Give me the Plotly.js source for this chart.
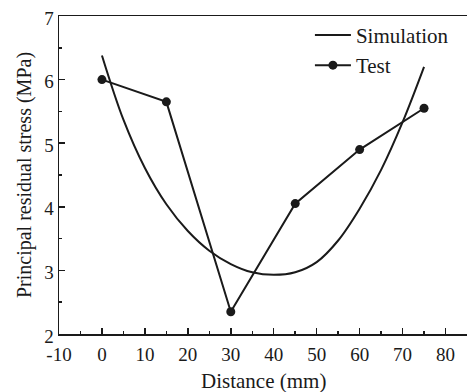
<!DOCTYPE html>
<html>
<head>
<meta charset="utf-8">
<script src="https://cdn.plot.ly/plotly-3.0.1.min.js"></script>
<style>html,body{margin:0;padding:0;background:#fff;}#chart{width:467px;height:392px;}</style>
</head>
<body>
<div id="chart"></div>
<script>
// Simulation curve
const simX = [0, 5, 10, 15, 20, 25, 30, 35, 40, 45, 50, 55, 60, 65, 70, 75];
const simY = [6.38, 5.37, 4.61, 4.04, 3.62, 3.31, 3.10, 2.97, 2.93, 2.97, 3.13, 3.47, 3.97, 4.58, 5.33, 6.2];
// Test data
const testX = [0, 15, 30, 45, 60, 75];
const testY = [6.0, 5.65, 2.35, 4.05, 4.9, 5.55];

const xTicks = [-10, 0, 10, 20, 30, 40, 50, 60, 70, 80];
const yTicks = [2, 3, 4, 5, 6, 7];
const xTitle = 'Distance (mm)';
const yTitle = 'Principal residual stress (MPa)';

const ink = '#1a1a1a';
const serif = 'Liberation Serif, Times New Roman, serif';

const traces = [
  {x: simX, y: simY, name: 'Simulation', mode: 'lines',
   line: {color: ink, width: 2, shape: 'spline', smoothing: 1}},
  {x: testX, y: testY, name: 'Test', mode: 'lines+markers',
   line: {color: ink, width: 2}, marker: {color: ink, size: 9, symbol: 'circle'}}
];

const layout = {
  width: 467, height: 392,
  margin: {l: 59, r: 0, t: 16, b: 58, pad: 0},
  paper_bgcolor: '#fff', plot_bgcolor: '#fff',
  font: {family: serif, size: 20, color: ink},
  showlegend: true,
  legend: {x: 0.615, y: 1.004, xanchor: 'left', yanchor: 'top', bgcolor: 'rgba(0,0,0,0)',
           font: {family: serif, size: 21, color: ink}, itemwidth: 36, tracegroupgap: 0},
  xaxis: {
    range: [-10, 85], tickvals: xTicks, ticktext: xTicks.map(String),
    ticks: 'inside', ticklen: 6, tickwidth: 1.5, tickcolor: ink,
    showline: true, linecolor: ink, linewidth: 1.5, mirror: true,
    showgrid: false, zeroline: false, ticklabelstandoff: 3,
    minor: {ticks: 'inside', ticklen: 3, tickwidth: 1.5, tickcolor: ink, dtick: 5, tick0: 0, showgrid: false},
    tickfont: {family: serif, size: 19, color: ink}
  },
  yaxis: {
    range: [2, 7], tickvals: yTicks, ticktext: yTicks.map(String),
    ticks: 'inside', ticklen: 6, tickwidth: 1.5, tickcolor: ink,
    showline: true, linecolor: ink, linewidth: 1.5, mirror: false,
    showgrid: false, zeroline: false, ticklabelshift: 2,
    minor: {ticks: 'inside', ticklen: 3, tickwidth: 1.5, tickcolor: ink, dtick: 0.5, tick0: 0, showgrid: false},
    tickfont: {family: serif, size: 19, color: ink},
    title: {text: yTitle, font: {family: serif, size: 20, color: ink}, standoff: 7}
  },
  annotations: [
    {text: xTitle, xref: 'paper', yref: 'paper', x: 0.5, y: 0, xanchor: 'center', yanchor: 'top',
     yshift: -33, showarrow: false, font: {family: serif, size: 21, color: ink}}
  ]
};

Plotly.newPlot('chart', traces, layout, {displayModeBar: false, staticPlot: true});
</script>
</body>
</html>
